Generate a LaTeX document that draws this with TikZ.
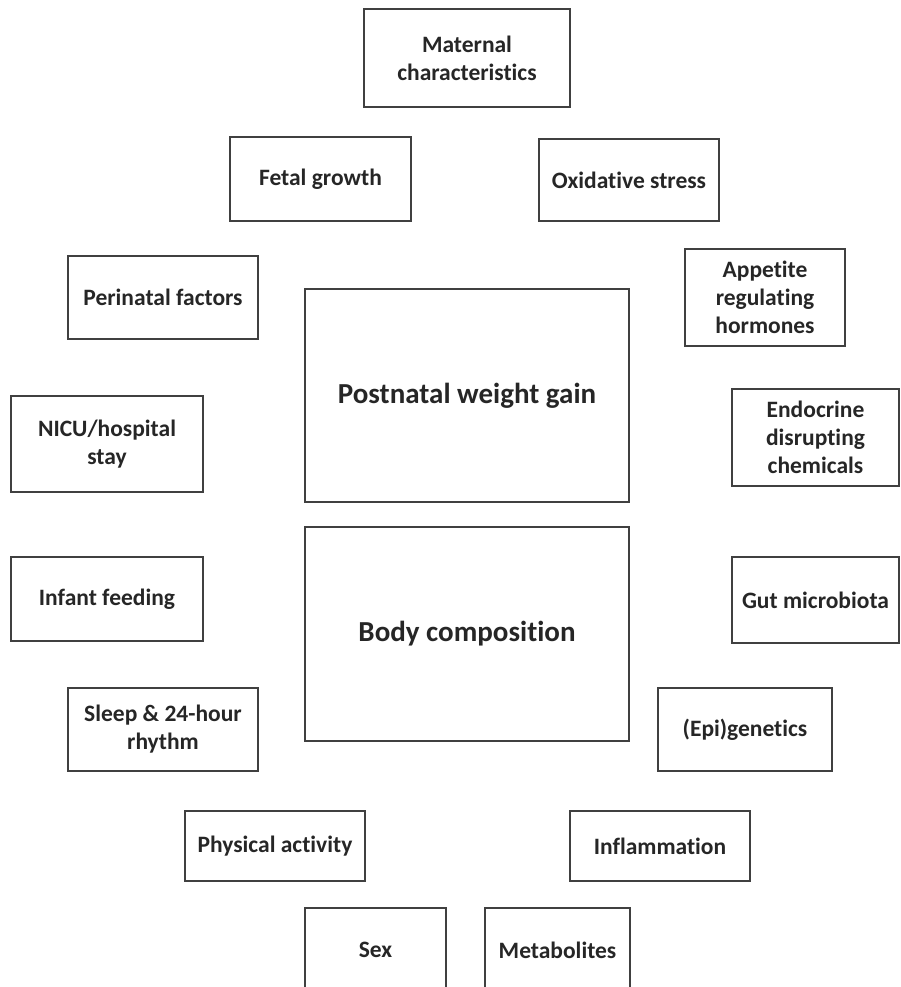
\documentclass[tikz,border=0pt]{standalone}
\usepackage{fontspec}
\setmainfont{Carlito}[Ligatures={NoCommon}]
\definecolor{boxline}{HTML}{404040}
\definecolor{boxtext}{HTML}{262626}
\tikzset{
  fbox/.style={draw=boxline, line width=1.3pt, rectangle, inner sep=0pt, outer sep=0pt,
    align=center, text=boxtext, font=\bfseries\fontsize{23.5}{28}\selectfont},
  bigbox/.style={fbox, font=\bfseries\fontsize{29}{34}\selectfont}
}
\begin{document}
\begin{tikzpicture}[x=1pt,y=-1pt]
\useasboundingbox (0,0) rectangle (901,987);
\clip (0,0) rectangle (901,987);
\node[fbox, minimum width=206pt, minimum height=98pt] (mat) at (467,58) {Maternal\\characteristics};
\node[fbox, minimum width=181pt, minimum height=84pt] (fetal) at (320.5,179) {Fetal growth};
\node[fbox, minimum width=180pt, minimum height=82pt] (oxid) at (629,180) {Oxidative stress};
\node[fbox, minimum width=190pt, minimum height=83pt] (peri) at (163,297.5) {Perinatal factors};
\node[fbox, minimum width=160pt, minimum height=97pt] (appe) at (765,297.5) {Appetite\\regulating\\hormones};
\node[bigbox, minimum width=324pt, minimum height=213pt] (post) at (467,395.5) {Postnatal weight gain};
\node[fbox, minimum width=192pt, minimum height=96pt] (nicu) at (107,444) {NICU/hospital\\stay};
\node[fbox, minimum width=167pt, minimum height=97pt] (endo) at (815.5,437.5) {Endocrine\\disrupting\\chemicals};
\node[fbox, minimum width=192pt, minimum height=84pt] (feed) at (107,599) {Infant feeding};
\node[bigbox, minimum width=324pt, minimum height=214pt] (body) at (467,634) {Body composition};
\node[fbox, minimum width=167pt, minimum height=86pt] (gut) at (815.5,600) {Gut microbiota};
\node[fbox, minimum width=190pt, minimum height=83pt] (sleep) at (163,729.5) {Sleep \& 24-hour\\rhythm};
\node[fbox, minimum width=174pt, minimum height=83pt] (epi) at (745,729.5) {(Epi)genetics};
\node[fbox, minimum width=180pt, minimum height=70pt] (phys) at (275,846) {Physical activity};
\node[fbox, minimum width=180pt, minimum height=70pt] (infl) at (660,846) {Inflammation};
\node[fbox, minimum width=141pt, minimum height=84pt] (sex) at (375.5,950) {Sex};
\node[fbox, minimum width=145pt, minimum height=84pt] (meta) at (557.5,950) {Metabolites};
\end{tikzpicture}
\end{document}
